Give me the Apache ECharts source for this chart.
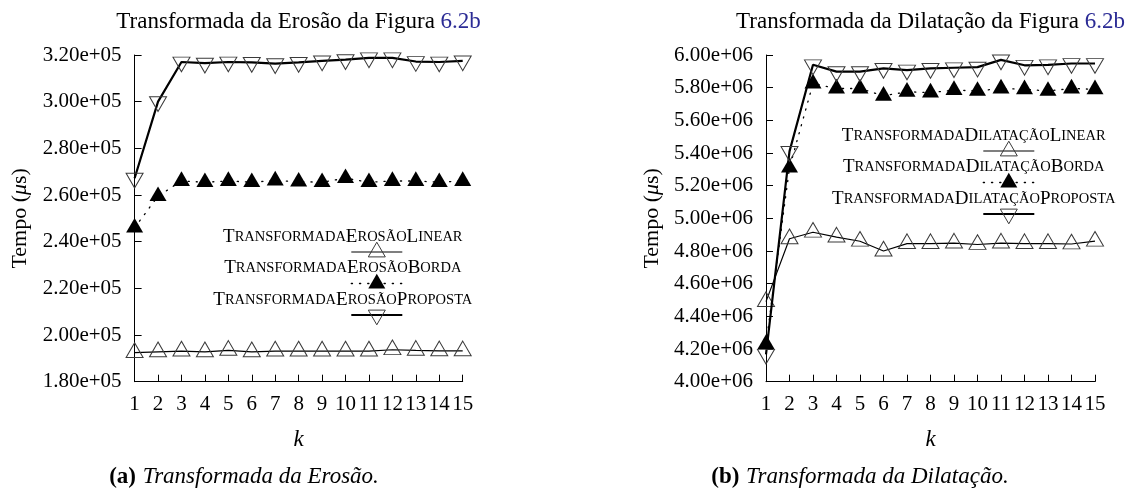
<!DOCTYPE html>
<html>
<head>
<meta charset="utf-8">
<script src="https://cdn.jsdelivr.net/npm/echarts@6/dist/echarts.min.js"></script>
<style>
html,body{margin:0;padding:0;background:#fff;}
#c{width:1134px;height:493px;}
</style>
</head>
<body>
<div id="c"></div>
<script>
// ---------- data ----------
const kValues = [1, 2, 3, 4, 5, 6, 7, 8, 9, 10, 11, 12, 13, 14, 15];

const erosaoLinear   = [1.925e5, 1.928e5, 1.931e5, 1.928e5, 1.934e5, 1.928e5, 1.931e5, 1.931e5, 1.931e5, 1.931e5, 1.931e5, 1.937e5, 1.934e5, 1.932e5, 1.932e5];
const erosaoBorda    = [2.460e5, 2.595e5, 2.660e5, 2.655e5, 2.660e5, 2.655e5, 2.662e5, 2.657e5, 2.655e5, 2.672e5, 2.655e5, 2.660e5, 2.660e5, 2.655e5, 2.660e5];
const erosaoProposta = [2.672e5, 3.000e5, 3.170e5, 3.165e5, 3.170e5, 3.168e5, 3.163e5, 3.168e5, 3.175e5, 3.180e5, 3.188e5, 3.188e5, 3.172e5, 3.170e5, 3.175e5];

const dilatacaoLinear   = [4.490e6, 4.875e6, 4.915e6, 4.885e6, 4.860e6, 4.800e6, 4.845e6, 4.845e6, 4.848e6, 4.840e6, 4.848e6, 4.845e6, 4.845e6, 4.843e6, 4.860e6];
const dilatacaoBorda    = [4.230e6, 5.310e6, 5.825e6, 5.795e6, 5.795e6, 5.750e6, 5.775e6, 5.770e6, 5.785e6, 5.780e6, 5.795e6, 5.790e6, 5.780e6, 5.795e6, 5.790e6];
const dilatacaoProposta = [4.168e6, 5.410e6, 5.940e6, 5.898e6, 5.898e6, 5.918e6, 5.908e6, 5.918e6, 5.922e6, 5.926e6, 5.970e6, 5.937e6, 5.940e6, 5.948e6, 5.948e6];

const erosaoYRange = [1.8e5, 3.2e5];
const erosaoYStep = 2e4;
const dilatacaoYRange = [4.0e6, 6.0e6];
const dilatacaoYStep = 2e5;

const seriesNamesErosao = ['TransformadaErosãoLinear', 'TransformadaErosãoBorda', 'TransformadaErosãoProposta'];
const seriesNamesDilatacao = ['TransformadaDilataçãoLinear', 'TransformadaDilataçãoBorda', 'TransformadaDilataçãoProposta'];

const titles = ['Transformada da Erosão da Figura ', 'Transformada da Dilatação da Figura '];
const titleRef = '6.2b';
const captionsTag = ['(a)', '(b)'];
const captionsText = ['Transformada da Erosão.', 'Transformada da Dilatação.'];
const xName = 'k';

// ---------- styles ----------
const FONT = '"Liberation Serif", "DejaVu Serif", serif';
const TRI_W = 17, TRI_H = 14.7;
const OFF = TRI_H / 6;

function fmt(v) {
  return v.toExponential(2).replace(/e([+-])(\d)$/, 'e$10$2');
}

function styleFor(kind) {
  if (kind === 0) {
    return {
      symbol: 'triangle', symbolSize: [TRI_W, TRI_H], symbolOffset: [0, -OFF],
      lineStyle: { color: '#000', width: 1.2 },
      itemStyle: { color: 'rgba(0,0,0,0)', borderColor: '#3a3a3a', borderWidth: 1 }
    };
  } else if (kind === 1) {
    return {
      symbol: 'triangle', symbolSize: [TRI_W, TRI_H], symbolOffset: [0, -OFF],
      lineStyle: { color: '#000', width: 1.3, type: [1.2, 7], cap: 'round' },
      itemStyle: { color: '#000', borderWidth: 0 }
    };
  }
  return {
    symbol: 'triangle', symbolSize: [TRI_W, TRI_H], symbolRotate: 180, symbolOffset: [0, OFF],
    lineStyle: { color: '#000', width: 2.2 },
    itemStyle: { color: 'rgba(0,0,0,0)', borderColor: '#3a3a3a', borderWidth: 1 }
  };
}

function mkSeries(name, values, kind, idx) {
  return Object.assign({
    name: name,
    type: 'line',
    xAxisIndex: idx,
    yAxisIndex: idx,
    data: kValues.map((k, i) => [k, values[i]]),
    showSymbol: true,
    showAllSymbol: true,
    silent: true,
    animation: false,
    z: 2 + kind
  }, styleFor(kind));
}

function xAxisFor(idx) {
  return {
    type: 'value', gridIndex: idx, min: kValues[0], max: kValues[kValues.length - 1], interval: 1,
    axisLine: { show: true, onZero: false, lineStyle: { color: '#000', width: 1 } },
    axisTick: { show: true, inside: true, length: 7, lineStyle: { color: '#000', width: 1 } },
    splitLine: { show: false },
    axisLabel: { color: '#000', fontFamily: FONT, fontSize: 21, margin: 12 },
    name: xName, nameLocation: 'middle', nameGap: 47,
    nameTextStyle: { color: '#000', fontFamily: FONT, fontSize: 23, fontStyle: 'italic' }
  };
}

function yAxisFor(idx, range, step) {
  return {
    type: 'value', gridIndex: idx, min: range[0], max: range[1], interval: step,
    axisLine: { show: true, onZero: false, lineStyle: { color: '#000', width: 1 } },
    axisTick: { show: true, inside: true, length: 7, lineStyle: { color: '#000', width: 1 } },
    splitLine: { show: false },
    axisLabel: { color: '#000', fontFamily: FONT, fontSize: 21, margin: 13, formatter: fmt },
    name: 'Tempo ({i|μ}s)', nameLocation: 'middle', nameGap: 103, nameRotate: 90,
    nameTextStyle: { color: '#000', fontFamily: FONT, fontSize: 22,
      rich: { i: { fontStyle: 'italic', fontFamily: FONT, fontSize: 22, color: '#000' } } }
  };
}

// small caps rich text
function smallCaps(str) {
  let out = '';
  let cur = null, buf = '';
  for (const ch of str) {
    const isUp = ch === ch.toUpperCase() && ch !== ch.toLowerCase();
    const t = isUp ? 'C' : 's';
    const c = isUp ? ch : ch.toUpperCase();
    if (t !== cur && buf) { out += '{' + cur + '|' + buf + '}'; buf = ''; }
    cur = t; buf += c;
  }
  if (buf) out += '{' + cur + '|' + buf + '}';
  return out;
}
const scRich = {
  C: { fontFamily: FONT, fontSize: 19, fill: '#000' },
  s: { fontFamily: FONT, fontSize: 14.5, fill: '#000' }
};

function triPoints(cx, cy, down) {
  if (!down) return [[cx, cy - TRI_H * 2 / 3], [cx + TRI_W / 2, cy + TRI_H / 3], [cx - TRI_W / 2, cy + TRI_H / 3]];
  return [[cx, cy + TRI_H * 2 / 3], [cx + TRI_W / 2, cy - TRI_H / 3], [cx - TRI_W / 2, cy - TRI_H / 3]];
}

function legendGraphics(names, textX, sampleX, topY, gap) {
  const els = [];
  names.forEach((nm, i) => {
    const ty = topY + i * gap;
    const sy = ty + 15;
    els.push({ type: 'text', x: textX, y: ty, silent: true,
      style: { text: smallCaps(nm), rich: scRich, align: 'center', verticalAlign: 'middle' } });
    const st = styleFor(i);
    els.push({ type: 'line', silent: true,
      shape: { x1: sampleX - 25.5, y1: sy, x2: sampleX + 25.5, y2: sy },
      style: { stroke: '#000', lineWidth: st.lineStyle.width, lineDash: i === 1 ? [1.2, 7] : null, lineCap: i === 1 ? 'round' : 'butt' } });
    els.push({ type: 'polygon', silent: true,
      shape: { points: triPoints(sampleX, sy, i === 2) },
      style: i === 1 ? { fill: '#000' } : { fill: 'none', stroke: '#3a3a3a', lineWidth: 1 } });
  });
  return els;
}

const grids = [
  { left: 134.6, right: 1134 - 462.7, top: 55, bottom: 493 - 381.7 },
  { left: 766, right: 1134 - 1095, top: 55, bottom: 493 - 381.7 }
];

const graphics = [];
[298.6, 930.5].forEach((cx, i) => {
  graphics.push({ type: 'text', x: cx, y: 22, silent: true,
    style: { text: '{a|' + titles[i] + '}{b|' + titleRef + '}', align: 'center', verticalAlign: 'middle',
      rich: { a: { fontFamily: FONT, fontSize: 23, fill: '#000' }, b: { fontFamily: FONT, fontSize: 23, fill: '#2b2b95' } } } });
});
[244, 860].forEach((cx, i) => {
  graphics.push({ type: 'text', x: cx, y: 477, silent: true,
    style: { text: '{b|' + captionsTag[i] + '}  {i|' + captionsText[i] + '}', align: 'center', verticalAlign: 'middle',
      rich: { b: { fontFamily: FONT, fontSize: 23, fontWeight: 'bold', fill: '#000' },
              i: { fontFamily: FONT, fontSize: 23, fontStyle: 'italic', fill: '#000' } } } });
});
legendGraphics(seriesNamesErosao, 342.8, 376.8, 237, 31.5).forEach(e => graphics.push(e));
legendGraphics(seriesNamesDilatacao, 973.7, 1008.8, 136, 31.5).forEach(e => graphics.push(e));

const chart = echarts.init(document.getElementById('c'), null, { renderer: 'canvas' });
chart.setOption({
  backgroundColor: '#fff',
  animation: false,
  grid: grids,
  xAxis: [xAxisFor(0), xAxisFor(1)],
  yAxis: [yAxisFor(0, erosaoYRange, erosaoYStep), yAxisFor(1, dilatacaoYRange, dilatacaoYStep)],
  series: [
    mkSeries(seriesNamesErosao[0], erosaoLinear, 0, 0),
    mkSeries(seriesNamesErosao[1], erosaoBorda, 1, 0),
    mkSeries(seriesNamesErosao[2], erosaoProposta, 2, 0),
    mkSeries(seriesNamesDilatacao[0], dilatacaoLinear, 0, 1),
    mkSeries(seriesNamesDilatacao[1], dilatacaoBorda, 1, 1),
    mkSeries(seriesNamesDilatacao[2], dilatacaoProposta, 2, 1)
  ],
  graphic: graphics
});
</script>
</body>
</html>
